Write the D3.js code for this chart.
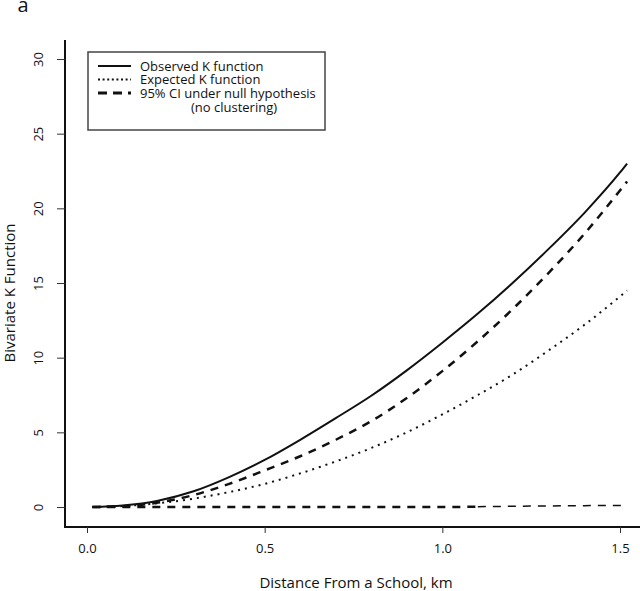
<!DOCTYPE html>
<html>
<head>
<meta charset="utf-8">
<script src="https://cdn.jsdelivr.net/npm/d3@7"></script>
<style>
  body { margin: 0; background: #fff; }
  text { font-family: 'Open Sans', sans-serif; fill: #111; }
</style>
</head>
<body>
<div id="chart"></div>
<script>
var distance = [ 0.015, 0.1, 0.2, 0.3, 0.4, 0.5, 0.6, 0.7, 0.8, 0.9, 1.0, 1.1, 1.2, 1.3, 1.4, 1.5, 1.52 ];
var observedK = [ 0.0, 0.1, 0.42, 1.05, 2.0, 3.15, 4.5, 5.95, 7.45, 9.15, 11.0, 12.95, 15.05, 17.3, 19.7, 22.4, 23.0 ];
var expectedK = [ 0.0, 0.06, 0.25, 0.56, 1.0, 1.55, 2.25, 3.05, 3.95, 5.0, 6.2, 7.5, 8.9, 10.5, 12.2, 14.1, 14.5 ];
var upperCI = [ 0.0, 0.05, 0.3, 0.8, 1.55, 2.45, 3.4, 4.5, 5.75, 7.3, 9.1, 11.1, 13.3, 15.7, 18.3, 21.2, 21.8 ];
var lowerCI = [ 0.0, 0.0, 0.0, 0.0, 0.0, 0.0, 0.0, 0.0, 0.0, 0.0, 0.0, 0.02, 0.05, 0.07, 0.09, 0.1, 0.1 ];

var xTicks = [ 0.0, 0.5, 1.0, 1.5 ];
var yTicks = [ 0, 5, 10, 15, 20, 25, 30 ];
var legendLabels = [ 'Observed K function', 'Expected K function', '95% CI under null hypothesis', '(no clustering)' ];

var kPlot = ( function() {

  var width = 640, height = 591;
  var xScale = d3.scaleLinear().domain( [ 0, 1.5 ] ).range( [ 87, 620 ] ),
    yScale = d3.scaleLinear().domain( [ 0, 30 ] ).range( [ 507, 59 ] );

  var svg;

  function series( values ) {
    return distance.map( ( d, i ) => [ d, values[ i ] ] );
  }

  function curvePath( data, width, dash ) {
    var line = d3.line()
      .x( d => xScale( d[ 0 ] ) )
      .y( d => yScale( d[ 1 ] ) )
      .curve( d3.curveMonotoneX );

    svg.append( 'path' )
      .datum( data )
      .attr( 'd', line )
      .attr( 'fill', 'none' )
      .attr( 'stroke', '#111' )
      .attr( 'stroke-width', width )
      .attr( 'stroke-dasharray', dash );
  }

  function draw() {

    svg = d3.select( '#chart' ).append( 'svg' )
      .attr( 'width', width )
      .attr( 'height', height );

    // panel letter
    svg.append( 'text' )
      .attr( 'x', 23 )
      .attr( 'y', 12 )
      .attr( 'text-anchor', 'middle' )
      .style( 'font-size', '20px' )
      .text( 'a' );

    // L-shaped box like R's bty = "l"
    svg.append( 'path' )
      .attr( 'd', 'M65,40 V527 H640' )
      .attr( 'fill', 'none' )
      .attr( 'stroke', '#111' )
      .attr( 'stroke-width', 2 );

    var xAxis = svg.append( 'g' )
      .attr( 'transform', 'translate(0,527)' )
      .call( d3.axisBottom( xScale ).tickValues( xTicks ).tickFormat( d3.format( '.1f' ) ).tickSize( 6 ).tickPadding( 11 ) );
    xAxis.select( '.domain' ).remove();
    xAxis.selectAll( 'text' ).style( 'font-size', '13px' );

    var yAxis = svg.append( 'g' )
      .attr( 'transform', 'translate(65,0)' )
      .call( d3.axisLeft( yScale ).tickValues( yTicks ).tickSize( 8 ) );
    yAxis.select( '.domain' ).remove();
    yAxis.selectAll( 'text' )
      .attr( 'x', null )
      .attr( 'text-anchor', 'middle' )
      .attr( 'transform', 'translate(-27,0) rotate(-90)' )
      .attr( 'dy', '0.35em' )
      .style( 'font-size', '13px' );

    svg.selectAll( '.tick line' ).attr( 'stroke', '#333' );

    // axis titles
    svg.append( 'text' )
      .attr( 'x', 356 )
      .attr( 'y', 588 )
      .attr( 'text-anchor', 'middle' )
      .style( 'font-size', '15px' )
      .text( 'Distance From a School, km' );

    svg.append( 'text' )
      .attr( 'transform', 'translate(15,293) rotate(-90)' )
      .attr( 'text-anchor', 'middle' )
      .style( 'font-size', '15px' )
      .text( 'Bivariate K Function' );

    // curves; the lower CI looks heavier where it sits flat on zero
    var lower = series( lowerCI );
    curvePath( lower.filter( d => d[ 0 ] <= 1.1 ), 2.5, '8,7' );
    curvePath( lower.filter( d => d[ 0 ] >= 1.1 ), 1.5, '8,7' );
    curvePath( series( expectedK ), 2, '2,5' );
    curvePath( series( upperCI ), 2.5, '8,7' );
    curvePath( series( observedK ), 2, null );

    drawLegend();
  }

  function drawLegend() {

    var lg = svg.append( 'g' );

    lg.append( 'rect' )
      .attr( 'x', 88 ).attr( 'y', 52 )
      .attr( 'width', 237 ).attr( 'height', 78 )
      .attr( 'fill', '#fff' )
      .attr( 'stroke', '#444' )
      .attr( 'stroke-width', 1.5 );

    var styles = [ null, '2,2.6', '9,6' ];
    var widths = [ 2, 2, 3 ];

    styles.forEach( ( s, i ) => {
      lg.append( 'line' )
        .attr( 'x1', 98 ).attr( 'x2', 131 )
        .attr( 'y1', 66 + i * 13.5 ).attr( 'y2', 66 + i * 13.5 )
        .attr( 'stroke', '#111' )
        .attr( 'stroke-width', widths[ i ] )
        .attr( 'stroke-dasharray', s );
    } );

    lg.selectAll( '.legend-text' )
      .data( legendLabels )
      .enter()
      .append( 'text' )
        .attr( 'class', 'legend-text' )
        .attr( 'x', ( d, i ) => i === 3 ? 234 : 140 )
        .attr( 'y', ( d, i ) => 66 + i * 13.9 )
        .attr( 'dy', '0.35em' )
        .attr( 'text-anchor', ( d, i ) => i === 3 ? 'middle' : 'start' )
        .style( 'font-size', '13px' )
        .text( d => d );
  }

  return {
    draw: draw
  };
} )();

kPlot.draw();
</script>
</body>
</html>
